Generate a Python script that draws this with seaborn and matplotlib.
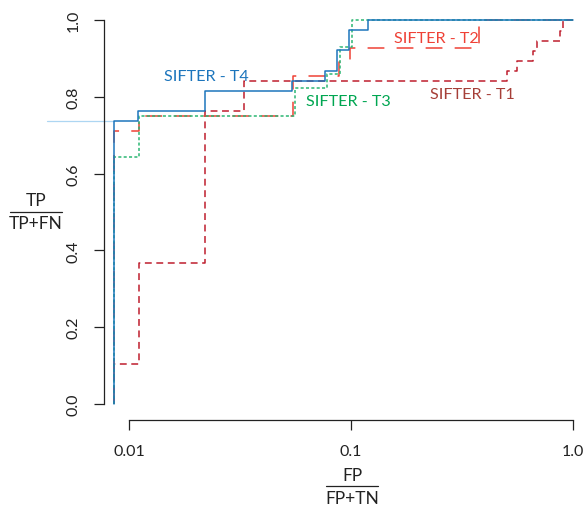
#!/usr/bin/env python3
"""ROC curves (log FPR) for the four SIFTER variants."""

import matplotlib
matplotlib.use("Agg")
import matplotlib.pyplot as plt
from matplotlib.lines import Line2D
import pandas as pd
import seaborn as sns

# step points: at each fpr the tpr jumps to the given value
SERIES = ["SIFTER - T1", "SIFTER - T2", "SIFTER - T3", "SIFTER - T4"]
FPR_T1 = [0.00856, 0.00856, 0.0111, 0.0220, 0.0330, 0.505, 0.560, 0.661, 0.689, 0.874, 0.902, 1.0]
TPR_T1 = [0.0, 0.105, 0.368, 0.763, 0.842, 0.868, 0.894, 0.920, 0.946, 0.972, 1.0, 1.0]
FPR_T2 = [0.00856, 0.00856, 0.0111, 0.0548, 0.0883, 0.099, 0.377, 1.0]
TPR_T2 = [0.0, 0.711, 0.749, 0.854, 0.890, 0.926, 1.0, 1.0]
FPR_T3 = [0.00856, 0.00856, 0.0111, 0.0559, 0.078, 0.0892, 0.101, 1.0]
TPR_T3 = [0.0, 0.644, 0.751, 0.822, 0.859, 0.929, 1.0, 1.0]
FPR_T4 = [0.00856, 0.00856, 0.0110, 0.0220, 0.0542, 0.0764, 0.0865, 0.098, 0.119, 1.0]
TPR_T4 = [0.0, 0.737, 0.763, 0.815, 0.842, 0.868, 0.921, 0.974, 1.0, 1.0]

LABEL_POS = {
    "SIFTER - T1": (0.351, 0.807),
    "SIFTER - T2": (0.2415, 0.953),
    "SIFTER - T3": (0.097, 0.789),
    "SIFTER - T4": (0.0222, 0.854),
}
X_TICKS = [0.01, 0.1, 1.0]
X_TICK_LABELS = ["0.01", "0.1", "1.0"]
Y_TICKS = [0.0, 0.2, 0.4, 0.6, 0.8, 1.0]

LINE_COLORS = {
    "SIFTER - T1": "#BE1E2D",
    "SIFTER - T2": "#EF4136",
    "SIFTER - T3": "#2BB673",
    "SIFTER - T4": "#1C75BC",
}
TEXT_COLORS = {
    "SIFTER - T1": "#A63F38",
    "SIFTER - T2": "#EF4136",
    "SIFTER - T3": "#00A651",
    "SIFTER - T4": "#1C75BC",
}
DASHES = {
    "SIFTER - T1": (4.5, 3),
    "SIFTER - T2": (11, 8),
    "SIFTER - T3": (2, 1.5),
    "SIFTER - T4": "",
}

sns.set_theme(style="white")
plt.rcParams["font.family"] = ["Lato", "DejaVu Sans"]

frames = []
for name, fpr, tpr in zip(SERIES, [FPR_T1, FPR_T2, FPR_T3, FPR_T4],
                          [TPR_T1, TPR_T2, TPR_T3, TPR_T4]):
    frames.append(pd.DataFrame({"fpr": fpr, "tpr": tpr, "series": name}))
df = pd.concat(frames, ignore_index=True)

W, H = 585, 506
fig = plt.figure(figsize=(W / 100, H / 100), dpi=100)
ax = fig.add_axes([104 / W, (H - 421) / H, (W - 104) / W, 421 / H])

for name in SERIES:
    sub = df[df["series"] == name]
    sns.lineplot(data=sub, x="fpr", y="tpr", ax=ax, color=LINE_COLORS[name],
                 dashes=False, estimator=None, sort=False, legend=False,
                 drawstyle="steps-post", linewidth=1.1)
    if DASHES[name]:
        ax.lines[-1].set_dashes(DASHES[name])

# faint stray stroke left of the start of T4
ax.plot([FPR_T4[1] / 2.0, FPR_T4[1]], [TPR_T4[1], TPR_T4[1]], color="#ADD6F2",
        linewidth=0.9, clip_on=False, zorder=0)

for name in SERIES:
    x, y = LABEL_POS[name]
    ax.text(x, y, name, color=TEXT_COLORS[name], fontsize=11.6,
            ha="center", va="center")

ax.set_xscale("log")
ax.set_xlim(10 ** (-2 + (104 - 129) / 222), 10 ** (-2 + (585 - 129) / 222))
ax.set_ylim((405 - 421) / 384, 405 / 384)
ax.set_xticks(X_TICKS)
ax.set_xticklabels(X_TICK_LABELS)
ax.minorticks_off()
ax.set_yticks(Y_TICKS)
ax.set_yticklabels([f"{v:.1f}" for v in Y_TICKS], rotation=90, va="center")
ax.tick_params(axis="both", direction="out", length=7, width=0.9,
               color="#222222", labelsize=11.5, labelcolor="#222222", pad=10,
               bottom=True, left=True)
for side in ["top", "right"]:
    ax.spines[side].set_visible(False)
ax.spines["left"].set_bounds(0, 1)
ax.spines["bottom"].set_bounds(0.01, 1.0)
for side in ["left", "bottom"]:
    ax.spines[side].set_color("#222222")
    ax.spines[side].set_linewidth(0.9)
ax.set_xlabel("")
ax.set_ylabel("")
ax.grid(False)


def frac_label(cx, top_y, line_y, bot_y, half_w, num, den):
    fig.text(cx / W, 1 - top_y / H, num, ha="center", va="center",
             fontsize=12.5, color="#222222")
    fig.add_artist(Line2D([(cx - half_w) / W, (cx + half_w) / W],
                          [1 - line_y / H, 1 - line_y / H],
                          color="#222222", linewidth=0.9))
    fig.text(cx / W, 1 - bot_y / H, den, ha="center", va="center",
             fontsize=12.5, color="#222222")


frac_label(36, 201, 213, 224, 26, "TP", "TP+FN")
frac_label(352, 476, 487, 499, 26, "FP", "FP+TN")

fig.savefig("out.png", dpi=100)
